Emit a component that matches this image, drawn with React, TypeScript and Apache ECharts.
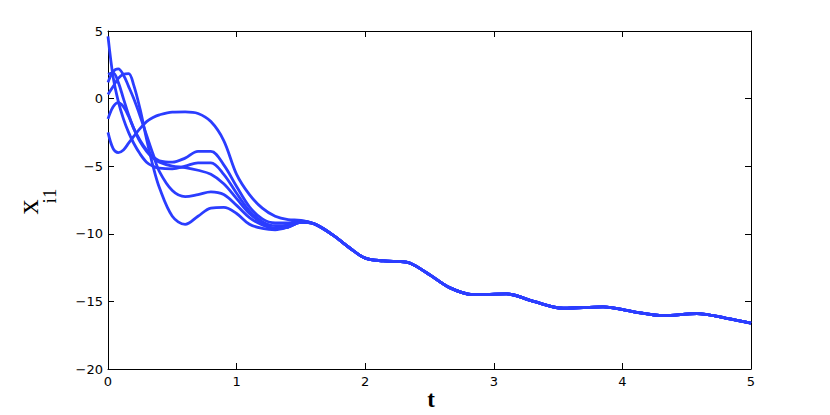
import React, { useEffect, useRef } from "react";
import * as echarts from "echarts";

// early part (individual trajectories)
const tEarly = [0, 0.04, 0.08, 0.12, 0.16, 0.2, 0.25, 0.3, 0.35, 0.4, 0.5, 0.6, 0.7, 0.8, 0.9, 1.0, 1.1, 1.2, 1.3, 1.4, 1.5];
const curvePlateau = [-2.5, -3.7, -4.0, -3.8, -3.3, -2.8, -2.2, -1.7, -1.4, -1.2, -1.0, -0.98, -1.1, -1.7, -3.1, -5.6, -7.1, -8.1, -8.7, -8.95, -9.0];
const curveM1 = [-1.5, -0.6, -0.3, -0.6, -1.3, -2.2, -3.1, -3.8, -4.3, -4.6, -4.7, -4.4, -3.9, -3.9, -4.9, -6.5, -8.0, -8.9, -9.2, -9.2, -9.05];
const curveM2 = [4.6, 1.6, -0.2, -1.5, -2.5, -3.3, -4.1, -4.7, -5.0, -5.15, -5.2, -5.0, -4.75, -4.75, -5.6, -7.0, -8.3, -9.1, -9.4, -9.35, -9.1];
const curveM3 = [1.8, 1.9, 1.2, 0.0, -1.2, -2.2, -3.2, -3.9, -4.4, -4.7, -5.0, -5.1, -5.3, -5.6, -6.3, -7.4, -8.5, -9.2, -9.6, -9.5, -9.15];
const curveE = [1.2, 2.0, 2.2, 1.75, 0.9, 0.0, -1.3, -2.7, -4.1, -5.4, -6.8, -7.25, -7.1, -6.9, -7.1, -7.9, -8.8, -9.35, -9.6, -9.5, -9.15];
const curveC = [0.3, 0.9, 1.5, 1.8, 1.85, 1.0, -0.8, -3.0, -5.0, -6.6, -8.7, -9.3, -8.7, -8.1, -8.05, -8.5, -9.3, -9.6, -9.7, -9.5, -9.15];

// shared tail after convergence
const tTail = [1.6, 1.75, 1.88, 2.0, 2.14, 2.32, 2.48, 2.66, 2.84, 3.1, 3.31, 3.54, 3.85, 4.08, 4.32, 4.58, 4.81, 5.0];
const yTail = [-9.25, -10.1, -11.05, -11.8, -12.0, -12.1, -12.9, -14.0, -14.5, -14.45, -15.0, -15.5, -15.4, -15.75, -16.05, -15.9, -16.25, -16.6];

const xTicks = { min: 0, max: 5, interval: 1 };
const yTicks = { min: -20, max: 5, interval: 5 };

const curves = [curvePlateau, curveM1, curveM2, curveM3, curveE, curveC];

function buildSeries(vals: number[]) {
  const pts: number[][] = tEarly.map((t, i) => [t, vals[i]]);
  tTail.forEach((t, i) => pts.push([t, yTail[i]]));
  return pts;
}

const LINE = "#2b3dff";
const AX = "#000";

export default function App() {
  const ref = useRef<HTMLDivElement>(null);
  useEffect(() => {
    if (!ref.current) return;
    const chart = echarts.init(ref.current, undefined, { renderer: "svg" });
    const axisLine = { show: true, onZero: false, lineStyle: { color: AX, width: 1 } };
    const tick = { show: true, inside: true, length: 6, lineStyle: { color: AX, width: 1 } };
    const labelFont = { color: "#000", fontSize: 13, fontFamily: "DejaVu Sans, sans-serif" };
    chart.setOption({
      animation: false,
      backgroundColor: "#fff",
      grid: { left: 108, right: 79, top: 31, bottom: 46, containLabel: false },
      xAxis: [
        {
          type: "value", ...xTicks, position: "bottom",
          axisLine, axisTick: tick, splitLine: { show: false },
          axisLabel: { ...labelFont, margin: 6 },
        },
        {
          type: "value", ...xTicks, position: "top",
          axisLine, axisTick: tick, splitLine: { show: false },
          axisLabel: { show: false },
        },
      ],
      yAxis: [
        {
          type: "value", ...yTicks, position: "left",
          axisLine, axisTick: tick, splitLine: { show: false },
          axisLabel: { ...labelFont, margin: 5, formatter: (v: number) => String(v).replace("-", "\u2212") },
        },
        {
          type: "value", ...yTicks, position: "right",
          axisLine, axisTick: tick, splitLine: { show: false },
          axisLabel: { show: false },
        },
      ],
      graphic: [
        {
          type: "text", x: 27, y: 207, rotation: Math.PI / 2,
          style: { text: "x", fontSize: 30, fontFamily: "Liberation Serif, Times New Roman, serif", fill: "#000", textAlign: "center", textVerticalAlign: "middle" },
        },
        {
          type: "text", x: 49, y: 196, rotation: Math.PI / 2,
          style: { text: "i1", fontSize: 19, fontFamily: "Liberation Serif, Times New Roman, serif", fill: "#000", textAlign: "center", textVerticalAlign: "middle" },
        },
        {
          type: "text", x: 431, y: 399,
          style: { text: "t", fontSize: 23, fontWeight: "bold", fontFamily: "Liberation Serif, Times New Roman, serif", fill: "#000", textAlign: "center", textVerticalAlign: "middle" },
        },
      ],
      series: curves.map((c, i) => ({
        name: "x" + i,
        type: "line",
        data: buildSeries(c),
        xAxisIndex: 0,
        yAxisIndex: 0,
        showSymbol: false,
        smooth: 0.35,
        lineStyle: { color: LINE, width: 2.8 },
        itemStyle: { color: LINE },
      })),
    });
    return () => chart.dispose();
  }, []);
  return <div ref={ref} style={{ position: "fixed", left: 0, top: 0, width: 830, height: 415, background: "#fff" }} />;
}
